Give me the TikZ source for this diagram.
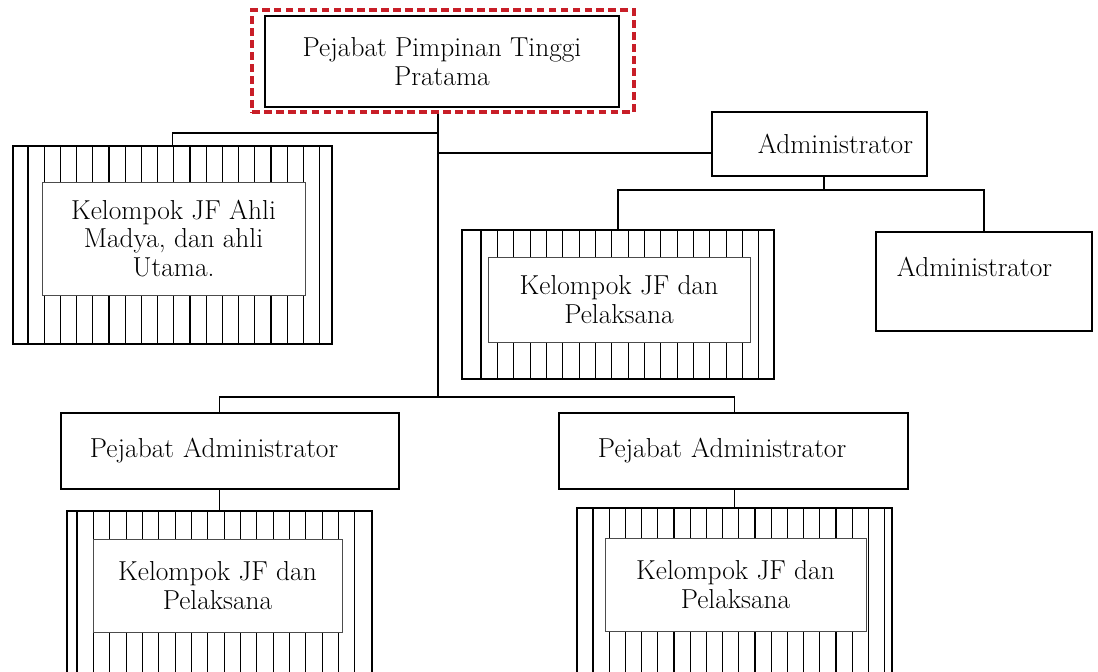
\documentclass[tikz,border=0pt]{standalone}
\usepackage{tikz}
\usetikzlibrary{arrows,shapes,positioning}
\definecolor{markred}{RGB}{200,30,40}
\tikzstyle{unit}=[draw, line width=1.3pt, rectangle
,inner sep=0pt
]
\tikzstyle{group}=[draw, line width=1.5pt, rectangle, inner sep=0pt]
\tikzstyle{inbox}=[draw=black!70, line width=0.5pt, fill=white, align=center, inner sep=0pt]
\tikzstyle{redframe}=[draw=markred, line width=2.4pt, dash pattern=on 5.5pt off 3pt, rectangle, inner sep=0pt]
\tikzstyle{stripe}=[draw, line width=0.75pt]
\tikzstyle{edge} = [draw, line width=0.8pt, -]

\begin{document}
\begin{tikzpicture}[x=0.025cm, y=-0.025cm, every node/.style={font=\fontsize{19.5}{20.6}\selectfont}]
    \useasboundingbox (0,0) rectangle (1098,671);
    % First the stripes behind the groups
    \foreach \sx/\cnt/\st/\ya/\yb in {28/18/16.2/146/344, 481/17/16.35/230/379, 77/17/16.35/511/690, 593/18/16.2/508/690}
        \foreach \k in {0,...,\cnt}
            \draw[stripe] ({\sx+\st*\k},\ya) -- ({\sx+\st*\k},\yb);

    % Striped groups with their white boxes
    \node[group, minimum width=7.975cm, minimum height=4.95cm] (jfutama) at (172.5,245) {};
    \node[inbox, minimum width=6.575cm, minimum height=2.825cm] (jfutama_in) at (173.5,238.5) {Kelompok JF Ahli\\Madya, dan ahli\\Utama.};
    \node[group, minimum width=7.8cm, minimum height=3.725cm] (jfmid) at (618,304.5) {};
    \node[inbox, minimum width=6.55cm, minimum height=2.125cm] (jfmid_in) at (619,299.5) {Kelompok JF dan\\Pelaksana};
    \node[group, minimum width=7.625cm, minimum height=4.475cm] (jfb1) at (219.5,600.5) {};
    \node[inbox, minimum width=6.225cm, minimum height=2.325cm] (jfb1_in) at (217.5,585.5) {Kelompok JF dan\\Pelaksana};
    \node[group, minimum width=7.875cm, minimum height=4.55cm] (jfb2) at (734.5,599) {};
    \node[inbox, minimum width=6.525cm, minimum height=2.325cm] (jfb2_in) at (735.5,584.5) {Kelompok JF dan\\Pelaksana};

    % Then the plain boxes
    \node[unit, align=center, minimum width=8.85cm, minimum height=2.275cm] (pimpinan) at (442,61.5) {Pejabat Pimpinan Tinggi\\Pratama};
    \node[redframe, minimum width=9.55cm, minimum height=2.55cm] (pimpinan_mark) at (443,61) {};
    \node[unit, align=right, inner xsep=0.35cm, text width=4.675cm, minimum height=1.6cm] (adm) at (819.5,144) {\mbox{Administrator}};
    \node[unit, align=left, inner xsep=0.525cm, text width=4.35cm, minimum height=2.475cm] (admb) at (984,281.5) {\mbox{Administrator}\\~};
    \node[unit, align=left, inner xsep=0.725cm, text width=7cm, minimum height=1.9cm] (pa1) at (230,451) {\mbox{Pejabat Administrator}};
    \node[unit, align=left, inner xsep=0.975cm, text width=6.775cm, minimum height=1.9cm] (pa2) at (733.5,451) {\mbox{Pejabat Administrator}};

    % Connect boxes with lines
    \coordinate (lbus) at (438,133);
    \coordinate (rbus) at (438,153);
    \coordinate (bbus) at (438,397);
    \coordinate (abus) at (824,190);
    \path[edge] (pimpinan_mark.south -| bbus) -- (bbus);
    \path[edge] (jfutama.north) |- (lbus);
    \path[edge] (rbus) -- (rbus -| adm.west);
    \path[edge] (adm.south -| abus) -- (abus);
    \path[edge] (jfmid.north) |- (abus) -| (admb.north);
    \path[edge] (pa1.north -| jfb1.north) |- (bbus) -| (pa2.north -| jfb2.north);
    \path[edge] (pa1.south -| jfb1.north) -- (jfb1.north);
    \path[edge] (pa2.south -| jfb2.north) -- (jfb2.north);
\end{tikzpicture}
\end{document}
